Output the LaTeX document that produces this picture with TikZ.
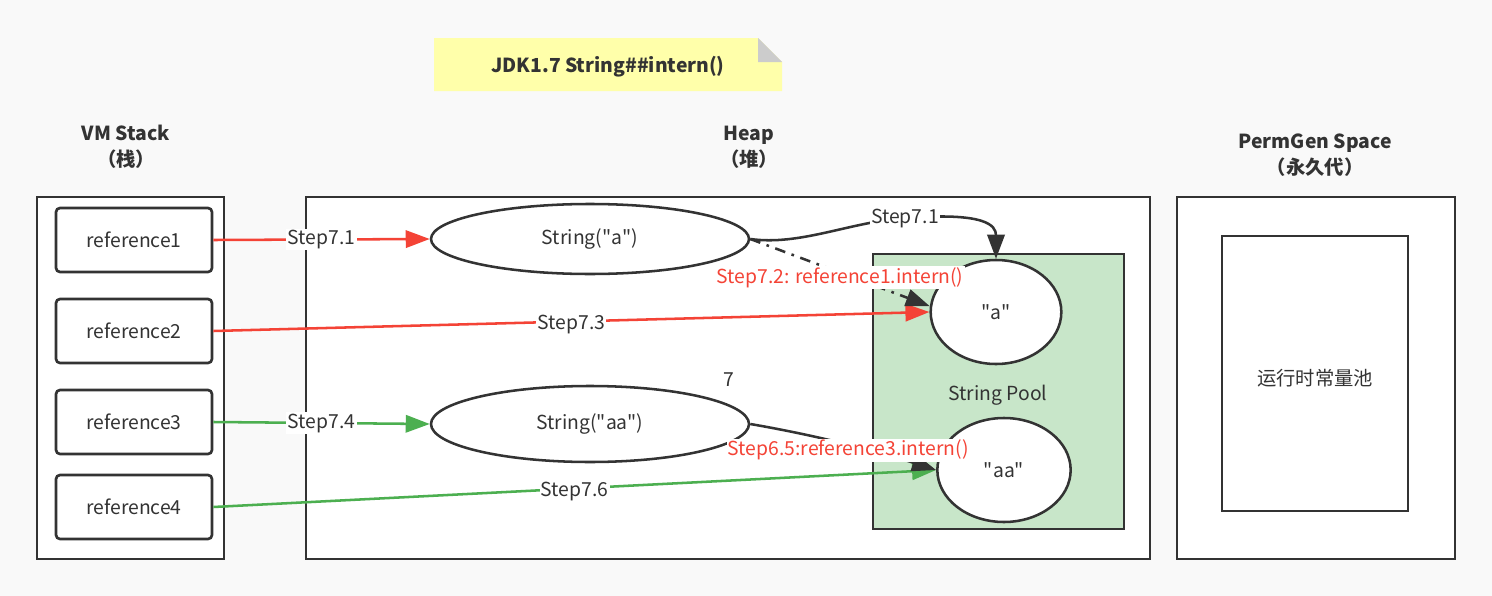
\documentclass[tikz,border=0pt]{standalone}
\usepackage{fontspec}
\setmainfont{Noto Sans CJK SC}[Ligatures=TeXOff]
\usetikzlibrary{arrows.meta, positioning, shapes}
\usepackage{xcolor}
\definecolor{lineDark}{HTML}{333333}
\definecolor{bgGray}{HTML}{F9F9F9}
\definecolor{refRed}{HTML}{F44336}
\definecolor{refGreen}{HTML}{4CAF50}
\definecolor{poolGreen}{HTML}{C8E6C9}
\definecolor{noteYellow}{HTML}{FFFFAA}
\definecolor{foldGray}{HTML}{CCCCCC}

\begin{document}
\begin{tikzpicture}[x=0.75pt,y=-0.75pt,font=\fontsize{14.5}{16}\selectfont,text=lineDark]
    \tikzstyle{ref} = [rectangle, draw=lineDark, line width=2pt, rounded corners=3pt,
        fill=white, minimum width=117pt, minimum height=48pt]
    \tikzstyle{obj} = [ellipse, draw=lineDark, line width=1.9pt, fill=white, inner sep=0pt]
    \tikzstyle{area} = [draw=lineDark, line width=2.2pt, fill=white]
    \tikzstyle{head} = [align=center, font=\fontsize{14.5}{19.5}\selectfont\bfseries]
    \tikzstyle{steplbl} = [fill=white, inner sep=1pt]
    \tikzstyle{redlbl} = [fill=white, inner sep=1pt, text=refRed]
    \tikzstyle{redline} = [draw=refRed, line width=1.9pt, -{Triangle[length=18pt,width=13pt]}]
    \tikzstyle{greenline} = [draw=refGreen, line width=1.9pt, -{Triangle[length=18pt,width=13pt]}]
    \tikzstyle{darkline} = [draw=lineDark, line width=1.9pt, -{Triangle[length=18pt,width=13pt]}]

    \fill[bgGray] (0,0) rectangle (1492,596);
    \useasboundingbox (0,0) rectangle (1492,596);

    % note
    \fill[noteYellow] (434,38) -- (758,38) -- (782,62) -- (782,91) -- (434,91) -- cycle;
    \fill[foldGray] (758,38) -- (782,62) -- (758,62) -- cycle;
    \node[font=\fontsize{14.5}{16}\selectfont\bfseries] (title) at (608,67) {JDK1.7 String\#\#intern()};

    % areas
    \node[head] (hstack) at (126,147) {VM Stack\\（栈）};
    \node[head] (hheap) at (749,147) {Heap\\（堆）};
    \node[head] (hperm) at (1315,155) {PermGen Space\\（永久代）};
    \draw[area] (37,197) rectangle (224,559);
    \draw[area] (306,197) rectangle (1150,559);
    \draw[area] (1177,197) rectangle (1455,559);
    \draw[area] (1222,236) rectangle (1408,511);
    \node (pool) at (1315,378) {运行时常量池};
    \draw[draw=lineDark, line width=2.2pt, fill=poolGreen] (873,254) rectangle (1124,529);
    \node (sp) at (998,395) {String Pool};

    % stack references
    \node[ref] (r1) at (134,240) {reference1};
    \node[ref] (r2) at (134,331) {reference2};
    \node[ref] (r3) at (134,422) {reference3};
    \node[ref] (r4) at (134,507) {reference4};

    % heap objects
    \node[obj, minimum width=238.5pt, minimum height=52.5pt] (sa) at (590,239) {String("a")};
    \node[obj, minimum width=238.5pt, minimum height=57pt] (saa) at (590,424) {String("aa")};
    \node[obj, minimum width=98pt, minimum height=78pt] (a) at (996,312) {"a"};
    \node[obj, minimum width=100pt, minimum height=78pt] (aa) at (1004,470) {"aa"};

    % connections
    \draw[redline] (r1.east) -- node[steplbl] {Step7.1} (sa.west);
    \draw[redline] (r2.east) -- node[steplbl, yshift=-2pt] {Step7.3} (a.west);
    \draw[greenline] (r3.east) -- node[steplbl] {Step7.4} (saa.west);
    \draw[greenline] (r4.east) -- node[steplbl, yshift=-2pt] {Step7.6} (aa.west);
    %
    \draw[darkline] (sa.east) .. controls (800,246) and (850,222) .. (905,218)
        node[steplbl] (s71) {Step7.1}
        .. controls (985,212) and (996,225) .. (a.north);
    \draw[darkline, dash pattern=on 8pt off 5pt on 2pt off 5pt] (sa.east) --
        node[redlbl, yshift=-4pt] (s72) {Step7.2: reference1.intern()} (a.175);
    %
    \node (n7) at (729,380) {7};
    \draw[darkline] (saa.east) .. controls (820,436) and (880,452) .. (aa.west)
        node[redlbl, pos=0.5, yshift=-4pt] (s65) {Step6.5:reference3.intern()};

\end{tikzpicture}
\end{document}
